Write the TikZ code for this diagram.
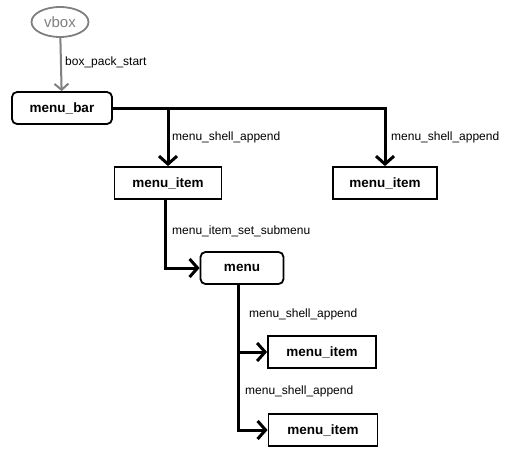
\documentclass[tikz,border=0pt]{standalone}
\usepackage{fontspec}
\setmainfont{Liberation Sans}
\usetikzlibrary{arrows.meta, shapes.geometric}

\begin{document}
\begin{tikzpicture}[x=1pt, y=-1pt,
    widget/.style={draw, line width=1.8pt, minimum height=32pt, inner sep=2pt,
        font=\fontsize{13.5}{16}\selectfont\bfseries},
    container/.style={widget, rounded corners=5pt},
    root/.style={ellipse, draw=gray, text=gray, line width=1.8pt,
        minimum width=57pt, minimum height=30pt, inner sep=1pt,
        font=\fontsize{15}{18}\selectfont},
    link/.style={line width=3pt, -{Straight Barb[length=8pt, width=18pt]}},
    calltext/.style={anchor=west, inner sep=0pt, font=\fontsize{12}{14}\selectfont}]
        \useasboundingbox (0,0) rectangle (515,461);
        % widgets
        \node[root] (vbox) at (60,22) {vbox};
        \node[container, minimum width=100pt] (bar) at (62,108) {menu\_bar};
        \node[widget, minimum width=107pt] (item1) at (168,183) {menu\_item};
        \node[widget, minimum width=104pt] (item2) at (385,183) {menu\_item};
        \node[container, minimum width=83pt] (menu) at (242,268) {menu};
        \node[widget, minimum width=108pt] (sub1) at (322,352) {menu\_item};
        \node[widget, minimum width=109pt] (sub2) at (323,430) {menu\_item};
        % calls
        \draw[gray, line width=2pt, -{Straight Barb[length=6pt, width=14pt]}] (vbox) -- (bar);
        \draw[link] (bar.east) -| (item2.north);
        \draw[link] (bar.east -| item1.north) -- (item1.north);
        \draw[link] ([xshift=-3pt]item1.south) |- (menu.west);
        \draw[link] ([xshift=-4pt]menu.south) |- (sub1.west);
        \draw[link] ([xshift=-4pt]menu.south) |- (sub2.west);
        % labels
        \node[calltext] (lpack) at (65,62) {box\_pack\_start};
        \node[calltext] (lshell1) at (172,137) {menu\_shell\_append};
        \node[calltext] (lshell2) at (391,137) {menu\_shell\_append};
        \node[calltext] (lsub) at (172,231) {menu\_item\_set\_submenu};
        \node[calltext] (lshell3) at (249,314) {menu\_shell\_append};
        \node[calltext] (lshell4) at (245,391) {menu\_shell\_append};
    \end{tikzpicture}
\end{document}
